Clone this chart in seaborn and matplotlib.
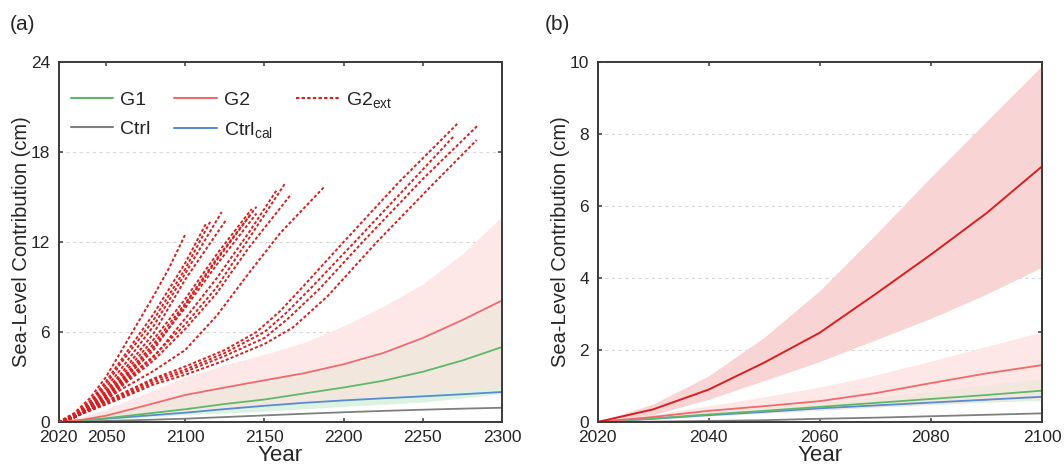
import numpy as np
import pandas as pd
import matplotlib
matplotlib.use("Agg")
import matplotlib.pyplot as plt
from matplotlib.lines import Line2D
import seaborn as sns

# ---------------- data: panel (a) ----------------
years_a = [2020, 2035, 2050, 2075, 2100, 2125, 2150, 2175, 2200, 2225, 2250, 2275, 2300]
g2_mean = [0, 0.15, 0.42, 1.1, 1.8, 2.3, 2.78, 3.25, 3.85, 4.6, 5.6, 6.8, 8.1]
g2_upper = [0, 0.35, 0.85, 1.9, 3.0, 3.8, 4.5, 5.3, 6.4, 7.7, 9.2, 11.2, 13.7]
g2_lower = [0, 0.08, 0.2, 0.5, 0.75, 0.95, 1.15, 1.35, 1.55, 1.72, 1.9, 2.1, 2.3]
g1_mean = [0, 0.1, 0.25, 0.55, 0.85, 1.2, 1.5, 1.9, 2.3, 2.75, 3.35, 4.1, 5.0]
g1_upper = [0, 0.13, 0.38, 1.0, 1.65, 2.15, 2.6, 3.1, 3.7, 4.45, 5.4, 6.55, 7.9]
g1_lower = [0, 0.06, 0.15, 0.32, 0.49, 0.6, 0.71, 0.88, 1.04, 1.18, 1.33, 1.6, 1.9]
ctrlcal_mean = [0, 0.1, 0.22, 0.42, 0.62, 0.86, 1.08, 1.28, 1.44, 1.58, 1.71, 1.85, 2.0]
ctrl_mean = [0, 0.03, 0.07, 0.14, 0.22, 0.33, 0.44, 0.55, 0.65, 0.74, 0.82, 0.89, 0.95]

# G2ext ensemble members (year, value)
ext_A1_year = [2020, 2030, 2040, 2050, 2060, 2070, 2080, 2090, 2100]
ext_A1_val = [0, 0.6, 1.6, 3.0, 4.8, 6.6, 8.4, 10.3, 12.5]
ext_A2_year = [2020, 2030, 2040, 2050, 2060, 2080, 2100, 2113]
ext_A2_val = [0, 0.5, 1.4, 2.7, 4.2, 7.2, 10.6, 13.2]
ext_A3_year = [2020, 2030, 2040, 2050, 2060, 2080, 2100, 2116]
ext_A3_val = [0, 0.45, 1.3, 2.5, 4.0, 6.8, 10.2, 13.4]
ext_A4_year = [2020, 2030, 2040, 2050, 2060, 2080, 2100, 2123]
ext_A4_val = [0, 0.4, 1.2, 2.3, 3.6, 6.4, 9.9, 14.0]
ext_A5_year = [2020, 2030, 2040, 2050, 2060, 2080, 2100, 2126]
ext_A5_val = [0, 0.4, 1.1, 2.1, 3.3, 5.9, 9.5, 13.5]
ext_B1_year = [2020, 2030, 2040, 2050, 2060, 2080, 2100, 2120, 2142]
ext_B1_val = [0, 0.4, 1.1, 2.0, 3.1, 5.5, 8.2, 11.2, 14.2]
ext_B2_year = [2020, 2030, 2040, 2050, 2060, 2080, 2100, 2120, 2145]
ext_B2_val = [0, 0.35, 1.0, 1.9, 2.9, 5.2, 7.9, 10.9, 14.35]
ext_B3_year = [2020, 2030, 2040, 2050, 2060, 2080, 2100, 2120, 2145]
ext_B3_val = [0, 0.35, 1.0, 1.8, 2.8, 5.0, 7.6, 10.5, 13.9]
ext_B4_year = [2020, 2030, 2040, 2050, 2060, 2080, 2100, 2120, 2141]
ext_B4_val = [0, 0.3, 0.9, 1.7, 2.7, 4.8, 7.8, 10.8, 13.8]
ext_C1_year = [2020, 2030, 2040, 2050, 2060, 2080, 2100, 2120, 2140, 2163]
ext_C1_val = [0, 0.3, 0.9, 1.7, 2.6, 4.4, 6.5, 9.0, 12.2, 15.9]
ext_C2_year = [2020, 2030, 2040, 2050, 2060, 2080, 2100, 2120, 2140, 2158]
ext_C2_val = [0, 0.3, 0.9, 1.6, 2.5, 4.3, 6.9, 9.6, 12.6, 15.5]
ext_C3_year = [2020, 2030, 2040, 2050, 2060, 2080, 2100, 2120, 2140, 2167]
ext_C3_val = [0, 0.3, 0.85, 1.5, 2.4, 4.1, 6.2, 8.6, 11.6, 15.2]
ext_D1_year = [2020, 2030, 2040, 2050, 2060, 2080, 2100, 2120, 2140, 2160, 2188]
ext_D1_val = [0, 0.3, 0.8, 1.5, 2.2, 3.4, 4.8, 7.1, 9.9, 12.6, 15.7]
ext_E1_year = [2020, 2040, 2060, 2080, 2100, 2125, 2145, 2160, 2175, 2200, 2235, 2272]
ext_E1_val = [0, 0.9, 1.9, 2.9, 3.7, 4.8, 6.0, 7.4, 9.1, 12.0, 16.0, 19.9]
ext_E2_year = [2020, 2040, 2060, 2080, 2100, 2125, 2150, 2163, 2180, 2207, 2240, 2270]
ext_E2_val = [0, 0.85, 1.8, 2.8, 3.5, 4.6, 6.0, 7.2, 9.0, 12.0, 15.7, 19.1]
ext_E3_year = [2020, 2040, 2060, 2080, 2100, 2125, 2150, 2165, 2185, 2212, 2250, 2285]
ext_E3_val = [0, 0.8, 1.7, 2.65, 3.35, 4.4, 5.6, 6.9, 8.9, 12.0, 16.2, 19.8]
ext_E4_year = [2020, 2040, 2060, 2080, 2100, 2125, 2150, 2168, 2190, 2221, 2255, 2284]
ext_E4_val = [0, 0.75, 1.6, 2.5, 3.15, 4.1, 5.2, 6.3, 8.4, 12.0, 15.7, 18.8]

# ---------------- data: panel (b) ----------------
years_b = [2020, 2030, 2040, 2050, 2060, 2070, 2080, 2090, 2100]
ext_mean_b = [0, 0.35, 0.9, 1.65, 2.48, 3.55, 4.65, 5.8, 7.1]
ext_upper_b = [0, 0.5, 1.28, 2.35, 3.65, 5.2, 6.8, 8.35, 9.9]
ext_lower_b = [0, 0.2, 0.63, 1.15, 1.68, 2.28, 2.88, 3.55, 4.3]
g2_mean_b = [0, 0.14, 0.31, 0.44, 0.58, 0.8, 1.08, 1.35, 1.58]
g2_upper_b = [0, 0.2, 0.45, 0.7, 0.97, 1.3, 1.69, 2.1, 2.5]
g2_lower_b = [0, 0.08, 0.17, 0.25, 0.33, 0.42, 0.5, 0.58, 0.65]
g1_mean_b = [0, 0.1, 0.21, 0.31, 0.42, 0.53, 0.64, 0.75, 0.87]
g1_upper_b = [0, 0.12, 0.25, 0.38, 0.52, 0.68, 0.85, 1.02, 1.2]
g1_lower_b = [0, 0.08, 0.17, 0.25, 0.33, 0.41, 0.48, 0.55, 0.6]
ctrlcal_mean_b = [0, 0.09, 0.19, 0.28, 0.38, 0.46, 0.54, 0.62, 0.7]
ctrl_mean_b = [0, 0.01, 0.03, 0.05, 0.09, 0.12, 0.16, 0.2, 0.24]

xticks_a = [2020, 2050, 2100, 2150, 2200, 2250, 2300]
yticks_a = [0, 6, 12, 18, 24]
xticks_b = [2020, 2040, 2060, 2080, 2100]
yticks_b = [0, 2, 4, 6, 8, 10]
right_ticks_b = [2.5, 5, 7.5]

# ---------------- style ----------------
sns.set_style("ticks")
plt.rcParams["font.family"] = ["Liberation Sans", "DejaVu Sans"]
plt.rcParams["mathtext.default"] = "regular"

C_G1 = "#5fb86a"
C_G2 = "#f06a6a"
C_EXT = "#d71f1f"
C_CTRL = "#7f7f7f"
C_CAL = "#5a8ad2"
EDGE = "#3a3a3a"
F_PINK = "#fde7e7"
F_GREEN = "#dcf3e2"
F_TAN = "#f1e7dd"
F_EXT = "#f9d4d4"

fig = plt.figure(figsize=(10.64, 4.70), dpi=100)
ax_a = fig.add_axes([58.5 / 1064, 1 - 422 / 470, (502 - 58.5) / 1064, (422 - 62) / 470])
ax_b = fig.add_axes([597.5 / 1064, 1 - 422 / 470, (1042 - 597.5) / 1064, (422 - 62) / 470])


def line(ax, x, y, color, lw=1.3, **kw):
    df = pd.DataFrame({"x": x, "y": y})
    sns.lineplot(data=df, x="x", y="y", ax=ax, color=color, linewidth=lw,
                 estimator=None, sort=False, legend=False, **kw)


def bands(ax, x, g1_lo, g1_hi, g2_lo, g2_hi):
    # G2 band, G1 band, and their overlap drawn in a blended tone
    ax.fill_between(x, g2_lo, g2_hi, color=F_PINK, lw=0, zorder=1)
    ax.fill_between(x, g1_lo, g1_hi, color=F_GREEN, lw=0, zorder=1.1)
    lo = np.maximum(g1_lo, g2_lo)
    hi = np.minimum(g1_hi, g2_hi)
    ax.fill_between(x, lo, hi, where=hi > lo, color=F_TAN, lw=0, zorder=1.2,
                    interpolate=True)


# ---- panel (a) ----
bands(ax_a, years_a, np.array(g1_lower), np.array(g1_upper),
      np.array(g2_lower), np.array(g2_upper))
line(ax_a, years_a, ctrl_mean, C_CTRL)
line(ax_a, years_a, ctrlcal_mean, C_CAL)
line(ax_a, years_a, g1_mean, C_G1)
line(ax_a, years_a, g2_mean, C_G2)

members = {
    "A1": (ext_A1_year, ext_A1_val), "A2": (ext_A2_year, ext_A2_val),
    "A3": (ext_A3_year, ext_A3_val), "A4": (ext_A4_year, ext_A4_val),
    "A5": (ext_A5_year, ext_A5_val), "B1": (ext_B1_year, ext_B1_val),
    "B2": (ext_B2_year, ext_B2_val), "B3": (ext_B3_year, ext_B3_val),
    "B4": (ext_B4_year, ext_B4_val), "C1": (ext_C1_year, ext_C1_val),
    "C2": (ext_C2_year, ext_C2_val), "C3": (ext_C3_year, ext_C3_val),
    "D1": (ext_D1_year, ext_D1_val), "E1": (ext_E1_year, ext_E1_val),
    "E2": (ext_E2_year, ext_E2_val), "E3": (ext_E3_year, ext_E3_val),
    "E4": (ext_E4_year, ext_E4_val),
}
ext_df = pd.concat([pd.DataFrame({"member": k, "year": v[0], "val": v[1]})
                    for k, v in members.items()], ignore_index=True)
sns.lineplot(data=ext_df, x="year", y="val", units="member", estimator=None,
             sort=False, color=C_EXT, linewidth=1.4, linestyle=(0, (1.6, 1.1)),
             ax=ax_a, legend=False, zorder=3)

ax_a.set_xlim(2020, 2300)
ax_a.set_ylim(0, 24)
ax_a.set_xticks(xticks_a)
ax_a.set_yticks(yticks_a)

# ---- panel (b) ----
ax_b.fill_between(years_b, ext_lower_b, ext_upper_b, color=F_EXT, lw=0, zorder=1)
bands(ax_b, years_b, np.array(g1_lower_b), np.array(g1_upper_b),
      np.array(g2_lower_b), np.array(g2_upper_b))
line(ax_b, years_b, ctrl_mean_b, C_CTRL)
line(ax_b, years_b, ctrlcal_mean_b, C_CAL)
line(ax_b, years_b, g1_mean_b, C_G1)
line(ax_b, years_b, g2_mean_b, C_G2)
line(ax_b, years_b, ext_mean_b, C_EXT, lw=1.4)
ax_b.set_xlim(2020, 2100)
ax_b.set_ylim(0, 10)
ax_b.set_xticks(xticks_b)
ax_b.set_yticks(yticks_b)

for ax in (ax_a, ax_b):
    for s in ax.spines.values():
        s.set_color(EDGE)
        s.set_linewidth(1.4)
    ax.tick_params(direction="in", length=3, width=1.1, color=EDGE,
                   labelsize=12.5, pad=6, top=True, right=(ax is ax_a))
    ax.grid(axis="y", color="#d8d8d8", linestyle=(0, (3, 3)), linewidth=0.8)
    ax.set_axisbelow(True)
    ax.set_xlabel("Year", fontsize=16, labelpad=0)
    ax.set_ylabel("Sea-Level Contribution (cm)", fontsize=14.5, labelpad=0)

sec = ax_b.secondary_yaxis("right")
sec.set_yticks(right_ticks_b)
sec.tick_params(direction="in", length=3, width=1.1, color=EDGE, labelright=False)
sec.spines["right"].set_color(EDGE)
sec.spines["right"].set_linewidth(1.4)

# ---- legend ----
handles = [
    Line2D([], [], color=C_G1, lw=1.5), Line2D([], [], color=C_CTRL, lw=1.5),
    Line2D([], [], color=C_G2, lw=1.5), Line2D([], [], color=C_CAL, lw=1.5),
    Line2D([], [], color=C_EXT, lw=1.5, linestyle=(0, (1.6, 1.1))),
]
labels = ["G1", "Ctrl", "G2", "Ctrl$_{cal}$", "G2$_{ext}$"]
ax_a.legend(handles, labels, ncol=3, loc="upper left", bbox_to_anchor=(-0.012, 0.97),
            frameon=False, fontsize=14, handlelength=2.2, columnspacing=1.2,
            labelspacing=0.55, handletextpad=0.35)

fig.text(10 / 1064, 1 - 25 / 470, "(a)", fontsize=15, va="center", ha="left")
fig.text(545 / 1064, 1 - 25 / 470, "(b)", fontsize=15, va="center", ha="left")

fig.savefig("out.png", dpi=100)
